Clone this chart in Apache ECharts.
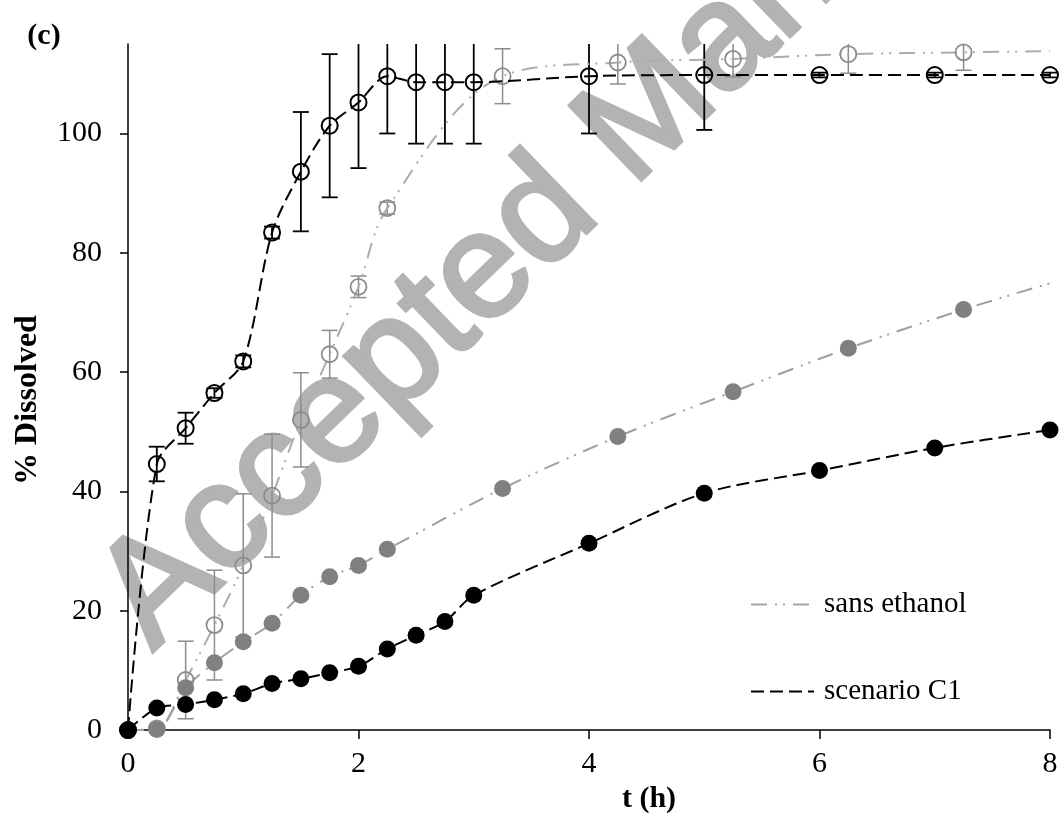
<!DOCTYPE html>
<html>
<head>
<meta charset="UTF-8">
<title>% Dissolved</title>
<script src="https://cdn.jsdelivr.net/npm/echarts@6/dist/echarts.min.js"></script>
<style>
  html, body { margin: 0; padding: 0; background: #fff; }
  #chart { width: 1061px; height: 819px; }
</style>
</head>
<body>
<div id="chart"></div>
<script>
// ---- data ----
var Y_MAX = 115;
var xTicks = [0, 2, 4, 6, 8];
var yTicks = [0, 20, 40, 60, 80, 100];

// scenario C1 (black)
var tBlack = [0, 0.25, 0.5, 0.75, 1, 1.25, 1.5, 1.75, 2, 2.25, 2.5, 2.75, 3, 4, 5, 6, 7, 8];
var blackOpen = [0, 44.6, 50.6, 56.5, 61.8, 83.4, 93.6, 101.3, 105.2, 109.6, 108.6, 108.6, 108.6, 109.6, 109.8, 109.8, 109.8, 109.8];
var blackOpenSd = [0, 2.9, 2.6, 0.8, 1.0, 1.0, 10, 12, 11, 9.6, 10.3, 10.3, 10.3, 9.6, 9.2, 0.4, 0.4, 0.4];
var blackFilled = [0, 3.7, 4.3, 5.1, 6.1, 7.8, 8.6, 9.6, 10.7, 13.6, 15.9, 18.2, 22.6, 31.3, 39.7, 43.5, 47.3, 50.3];

// sans ethanol (grey)
var tGrey = [0, 0.25, 0.5, 0.75, 1, 1.25, 1.5, 1.75, 2, 2.25, 3.25, 4.25, 5.25, 6.25, 7.25];
var greyOpen = [0, 0.3, 8.4, 17.6, 27.6, 39.3, 52.0, 63.0, 74.3, 87.5, 109.6, 111.9, 112.5, 113.3, 113.6];
var greyOpenSd = [0, 0.3, 6.5, 9.2, 12, 10.3, 7.9, 4, 1.8, 1, 4.6, 3.6, 3, 3.2, 3];
var greyFilled = [0, 0.1, 7.1, 11.3, 14.8, 17.9, 22.6, 25.7, 27.6, 30.3, 40.5, 49.2, 56.7, 64.0, 70.5];
// the grey lines run on to t = 8 without a marker
var greyEndT = 8;
var greyOpenEnd = 113.8;
var greyFilledEnd = 74.9;

// ---- helpers ----
function pairs(t, v) {
  return t.map(function (x, i) { return [x, v[i]]; });
}
function errData(t, v, sd) {
  var out = [];
  for (var i = 0; i < t.length; i++) {
    if (sd[i] > 0) out.push([t[i], v[i] - sd[i], v[i] + sd[i]]);
  }
  return out;
}
function errRender(color, lw) {
  return function (params, api) {
    var x = api.value(0), lo = api.value(1), hi = api.value(2);
    var pLo = api.coord([x, lo]);
    var pHi = api.coord([x, Math.min(hi, Y_MAX)]);
    var w = 8;
    var st = { stroke: color, lineWidth: lw };
    var kids = [
      { type: 'line', shape: { x1: pLo[0], y1: pLo[1], x2: pHi[0], y2: pHi[1] }, style: st },
      { type: 'line', shape: { x1: pLo[0] - w, y1: pLo[1], x2: pLo[0] + w, y2: pLo[1] }, style: st }
    ];
    // caps above the axis top are cut off, as in the figure
    if (hi <= Y_MAX) {
      kids.push({ type: 'line', shape: { x1: pHi[0] - w, y1: pHi[1], x2: pHi[0] + w, y2: pHi[1] }, style: st });
    }
    return { type: 'group', children: kids };
  };
}

var dashC1 = [13, 6];
var dashSans = [16, 8, 2, 6, 2, 8];
var serif = '"Liberation Serif", "Times New Roman", serif';
var noMark = { opacity: 0, color: 'rgba(0,0,0,0)' };

var greyOpenData = pairs(tGrey, greyOpen);
greyOpenData.push({ value: [greyEndT, greyOpenEnd], symbol: 'none' });
var greyFilledData = pairs(tGrey, greyFilled);
greyFilledData.push({ value: [greyEndT, greyFilledEnd], symbol: 'none' });

var chart = echarts.init(document.getElementById('chart'));
var option = {
  backgroundColor: '#fff',
  animation: false,
  grid: { left: 128, right: 11, top: 44, bottom: 80 },
  xAxis: {
    type: 'value', min: 0, max: 8, interval: 2,
    name: 't (h)', nameLocation: 'middle', nameGap: 48,
    nameTextStyle: { fontFamily: serif, fontWeight: 'bold', fontSize: 30, color: '#000', padding: [0, 0, 0, 120] },
    axisLine: { lineStyle: { color: '#000', width: 1.5 } },
    axisTick: { length: 9, lineStyle: { color: '#000', width: 1.5 } },
    axisLabel: { margin: 19, fontFamily: serif, fontSize: 30, color: '#000' },
    splitLine: { show: false }
  },
  yAxis: {
    type: 'value', min: 0, max: Y_MAX,
    axisLine: { show: true, lineStyle: { color: '#000', width: 1.5 } },
    axisTick: { show: true, length: 8, customValues: yTicks, lineStyle: { color: '#000', width: 1.5 } },
    axisLabel: { margin: 26, customValues: yTicks, fontFamily: serif, fontSize: 30, color: '#000' },
    splitLine: { show: false }
  },
  legend: {
    data: [
      { name: 'sans ethanol', itemStyle: noMark },
      { name: 'scenario C1', itemStyle: noMark }
    ],
    orient: 'vertical', left: 745, top: 585,
    itemWidth: 63, itemHeight: 14, itemGap: 58,
    selectedMode: false,
    textStyle: { fontFamily: serif, fontSize: 29, color: '#000', padding: [0, 0, 0, 5] }
  },
  graphic: [
    {
      type: 'text', x: 124, y: 622, rotation: 44 * Math.PI / 180, z: -10,
      style: { text: 'Accepted Manuscript', font: '150px "Liberation Sans", Arial, sans-serif',
               fill: '#b3b3b3', stroke: '#b3b3b3', lineWidth: 4,
               textAlign: 'left', textVerticalAlign: 'middle' }
    },
    {
      type: 'text', x: 44, y: 36,
      style: { text: '(c)', font: 'bold 30px ' + serif, fill: '#000', textAlign: 'center', textVerticalAlign: 'middle' }
    },
    {
      type: 'text', x: 28, y: 400, rotation: Math.PI / 2,
      style: { text: '% Dissolved', font: 'bold 32px ' + serif, fill: '#000', textAlign: 'center', textVerticalAlign: 'middle' }
    }
  ],
  series: [
    // legend-only entries
    { name: 'sans ethanol', type: 'line', data: [], symbol: 'none',
      lineStyle: { color: '#a6a6a6', width: 2, type: dashSans }, itemStyle: noMark },
    { name: 'scenario C1', type: 'line', data: [], symbol: 'none',
      lineStyle: { color: '#000', width: 2, type: dashC1 }, itemStyle: noMark },

    // error bars
    { name: 'err grey', type: 'custom', renderItem: errRender('#8c8c8c', 1.5),
      data: errData(tGrey, greyOpen, greyOpenSd), encode: { x: 0, y: [1, 2] }, z: 3 },
    { name: 'err black', type: 'custom', renderItem: errRender('#000', 1.8),
      data: errData(tBlack, blackOpen, blackOpenSd), encode: { x: 0, y: [1, 2] }, z: 3 },

    // sans ethanol, open
    { name: 'sans ethanol open', type: 'line', data: greyOpenData, smooth: 0.35,
      symbol: 'circle', symbolSize: 16,
      lineStyle: { color: '#acacac', width: 2, type: dashSans },
      itemStyle: { color: 'rgba(0,0,0,0)', borderColor: '#8c8c8c', borderWidth: 1.8 }, z: 4 },
    // sans ethanol, filled
    { name: 'sans ethanol filled', type: 'line', data: greyFilledData, smooth: 0.3,
      symbol: 'circle', symbolSize: 17,
      lineStyle: { color: '#a0a0a0', width: 2, type: dashSans },
      itemStyle: { color: '#808080' }, z: 4 },
    // scenario C1, open
    { name: 'scenario C1 open', type: 'line', data: pairs(tBlack, blackOpen), smooth: 0.3,
      symbol: 'circle', symbolSize: 16,
      lineStyle: { color: '#000', width: 2, type: dashC1 },
      itemStyle: { color: 'rgba(0,0,0,0)', borderColor: '#000', borderWidth: 2 }, z: 5 },
    // scenario C1, filled
    { name: 'scenario C1 filled', type: 'line', data: pairs(tBlack, blackFilled), smooth: 0.3,
      symbol: 'circle', symbolSize: 17,
      lineStyle: { color: '#000', width: 2, type: dashC1 },
      itemStyle: { color: '#000' }, z: 5 }
  ]
};
chart.setOption(option);
</script>
</body>
</html>
